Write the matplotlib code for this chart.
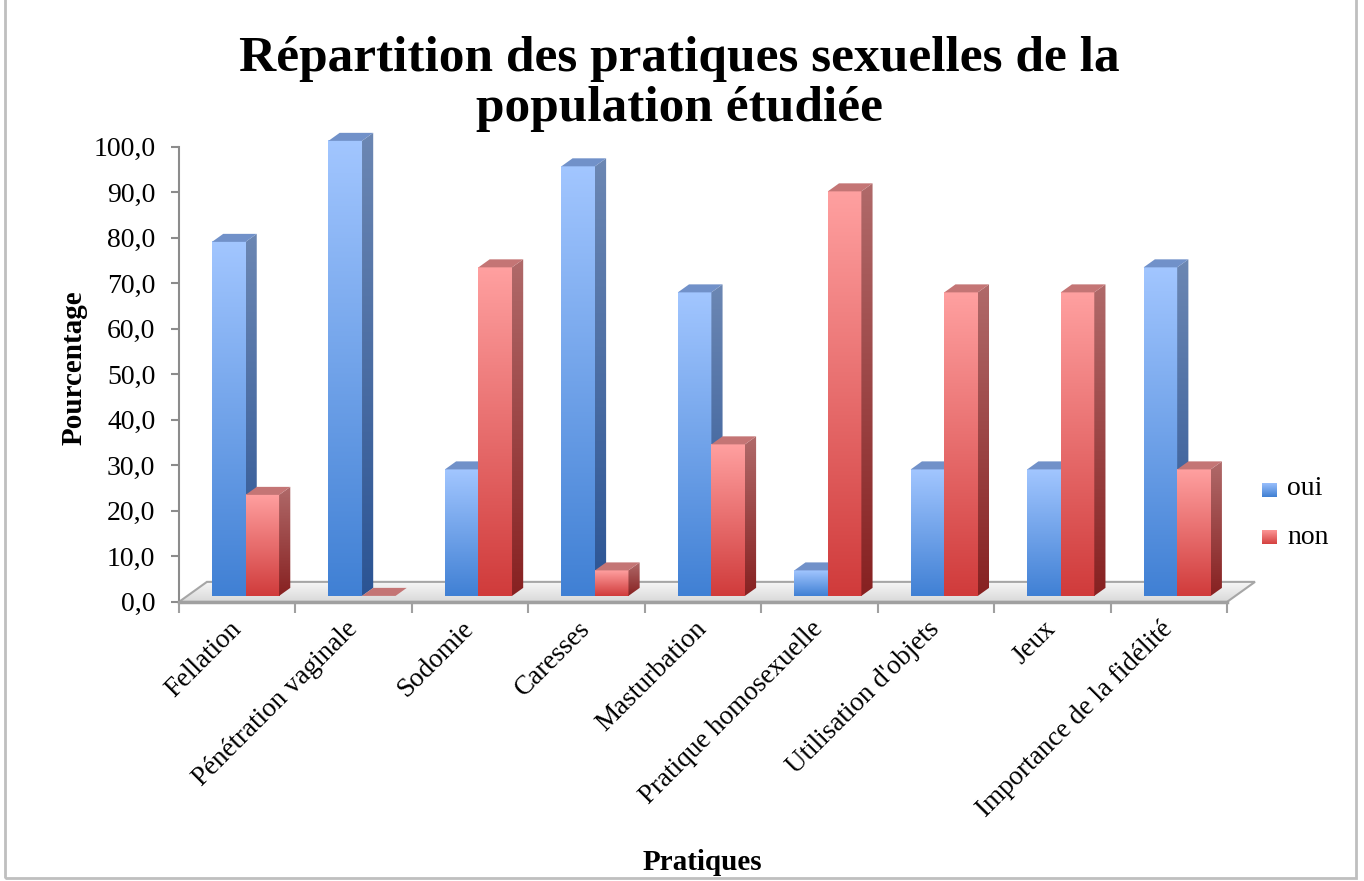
"""
Répartition des pratiques sexuelles: colonnes 3D groupées oui / non,
faces avant en dégradé, face latérale et dessus en ombré, sol gris.

Output: out.png (1364 x 881)
"""
import numpy as np
import matplotlib
matplotlib.use('Agg')
import matplotlib.pyplot as plt
from matplotlib.colors import LinearSegmentedColormap
from matplotlib.patches import Polygon, Patch

categories = ["Fellation", "Pénétration vaginale", "Sodomie", "Caresses",
              "Masturbation", "Pratique homosexuelle", "Utilisation d'objets",
              "Jeux", "Importance de la fidélité"]
oui = [77.8, 100.0, 27.8, 94.4, 66.7, 5.6, 27.8, 27.8, 72.2]
non = [22.2, 0.0, 72.2, 5.6, 33.3, 88.9, 66.7, 66.7, 27.8]
series_names = ["oui", "non"]
y_ticks = np.arange(0, 101, 10)

plt.rcParams.update({
    "font.family": ["Liberation Serif", "DejaVu Serif"],
    "font.size": 19,
})

# pseudo-3D geometry (data units: x = categories, y = percent)
FLOOR_DX, FLOOR_DY = 0.24, 4.4      # floor depth offset
FRONT = 0.30                        # bar front plane, fraction of floor depth
DEPTH = 0.40                        # bar depth, fraction of floor depth
BAR_W = 0.288
GAP0 = 0.212

styles = {
    "oui": {"front": ("#4080d4", "#a2c6ff"), "side": ("#2b5494", "#6c87b3"),
            "top": "#7191c9", "legend": ("#3f7fd2", "#9fc3ff")},
    "non": {"front": ("#d03b3b", "#ffa0a0"), "side": ("#872121", "#b06a6a"),
            "top": "#c47575", "legend": ("#d4403f", "#ff9d9d")},
}


def gradient(ax, lo, hi, extent, zorder, clip=None):
    cmap = LinearSegmentedColormap.from_list("g", [lo, hi])
    im = ax.imshow(np.linspace(0, 1, 256).reshape(-1, 1), cmap=cmap,
                   extent=extent, origin="lower", aspect="auto",
                   interpolation="bilinear", zorder=zorder)
    if clip is not None:
        im.set_clip_path(clip)
    return im


def draw_bar(ax, x0, v, st, z):
    sx, sy = FLOOR_DX * FRONT, FLOOR_DY * FRONT
    dx, dy = FLOOR_DX * DEPTH, FLOOR_DY * DEPTH
    x0 = x0 + sx
    x1 = x0 + BAR_W
    b = sy
    t = b + v
    if v > 0:
        gradient(ax, st["front"][0], st["front"][1], [x0, x1, b, t], z)
        side = Polygon([(x1, b), (x1 + dx, b + dy), (x1 + dx, t + dy), (x1, t)],
                       closed=True, facecolor="none", edgecolor="none")
        ax.add_patch(side)
        gradient(ax, st["side"][0], st["side"][1], [x1, x1 + dx, b, t + dy], z,
                 clip=side)
    top = Polygon([(x0, t), (x1, t), (x1 + dx, t + dy), (x0 + dx, t + dy)],
                  closed=True, facecolor=st["top"], edgecolor="none", zorder=z + 0.1)
    ax.add_patch(top)


fig = plt.figure(figsize=(13.64, 8.81), dpi=100)
ax = fig.add_axes([0.1312, 0.3013, 0.794, 0.563])
ax.set_xlim(0, 9.3)
ax.set_ylim(-3, 106)

# sol
n = len(categories)
floor = Polygon([(0, 0), (n, 0), (n + FLOOR_DX, FLOOR_DY), (FLOOR_DX, FLOOR_DY)],
                closed=True, facecolor="none", edgecolor="#a6a6a6", lw=1.5, zorder=1.5)
ax.add_patch(floor)
floor_fill = Polygon(floor.get_xy(), closed=True, facecolor="none", edgecolor="none")
ax.add_patch(floor_fill)
gradient(ax, "#d9d9d9", "#f7f7f7", [0, n + FLOOR_DX, 0, FLOOR_DY], 1, clip=floor_fill)

z = 3
for i in range(n):
    draw_bar(ax, i + GAP0, oui[i], styles["oui"], z)
    z += 1
    draw_bar(ax, i + GAP0 + BAR_W, non[i], styles["non"], z)
    z += 1

for side in ["top", "right"]:
    ax.spines[side].set_visible(False)
ax.spines["left"].set_bounds(0, 100)
ax.spines["left"].set_color("#8c8c8c")
ax.spines["left"].set_linewidth(1.5)
ax.spines["bottom"].set_position(("data", 0))
ax.spines["bottom"].set_bounds(0, n)
ax.spines["bottom"].set_color("#a0a0a0")
ax.spines["bottom"].set_linewidth(2.5)

ax.set_yticks(y_ticks)
ax.set_yticklabels([f"{v:.1f}".replace(".", ",") for v in y_ticks])
ax.tick_params(axis="y", length=6, width=1.5, color="#8c8c8c", pad=11, labelsize=20)

ax.set_xticks(np.arange(n) + 0.5)
ax.set_xticklabels(categories, rotation=45, ha="right", va="center",
                   rotation_mode="anchor")
ax.set_xticks(np.arange(n + 1), minor=True)
ax.tick_params(axis="x", which="major", length=0, pad=17, labelsize=19.5)
ax.tick_params(axis="x", which="minor", length=8, width=1.5, color="#a0a0a0")

ax.set_ylabel("Pourcentage", fontsize=21, fontweight="bold", labelpad=4)
fig.text(0.515, 0.021, "Pratiques", ha="center", va="center",
         fontsize=21, fontweight="bold")

fig.text(0.498, 0.905, "Répartition des pratiques sexuelles de la\npopulation étudiée",
         ha="center", va="center", fontsize=37, fontweight="bold", linespacing=1.12)

# légende: carrés en dégradé
handles = [Patch(facecolor="none", edgecolor="none") for s in series_names]
leg = fig.legend(handles, series_names, loc="center left",
                 bbox_to_anchor=(1265 / 1364, 1 - 513 / 881), frameon=False,
                 handlelength=0, handletextpad=0.3, borderpad=0,
                 labelspacing=0.85, fontsize=20)
for k, s in enumerate(series_names):
    yc = 1 - (490 + 47 * k) / 881
    lax = fig.add_axes([1262 / 1364, yc - 7.5 / 881, 15 / 1364, 15 / 881])
    lax.set_axis_off()
    gradient(lax, styles[s]["legend"][0], styles[s]["legend"][1], [0, 1, 0, 1], 1)
    lax.set_xlim(0, 1)
    lax.set_ylim(0, 1)

# cadre du graphique
fig.patches.append(plt.Rectangle((0.004, 0.003), 0.99, 1.2, transform=fig.transFigure,
                                 fill=False, edgecolor="#bfbfbf", lw=2))

fig.savefig("out.png", dpi=100)
